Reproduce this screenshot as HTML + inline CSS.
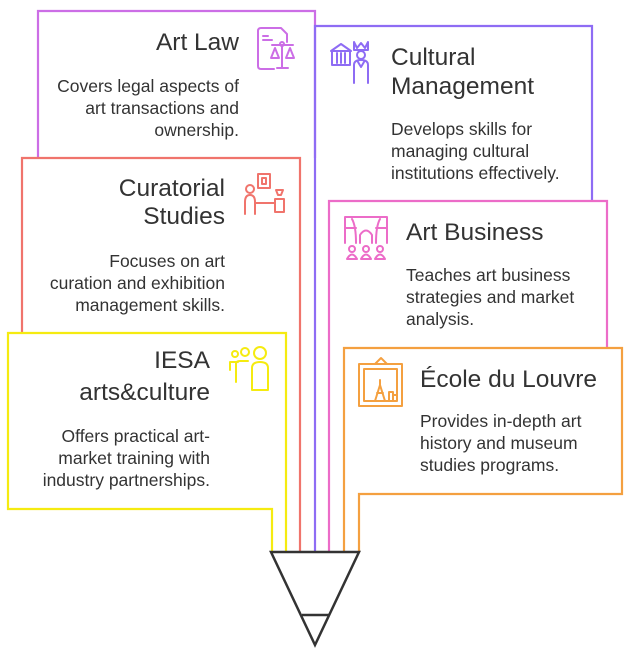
<!DOCTYPE html>
<html><head><meta charset="utf-8"><style>
html,body{margin:0;padding:0;background:#fff;}
svg{display:block;}
text{font-family:"Liberation Sans",sans-serif;fill:#333;}
.t{font-size:24.5px;}
.d{font-size:17.5px;}
</style></head><body>
<svg width="630" height="653" viewBox="0 0 630 653" xmlns="http://www.w3.org/2000/svg">
<g fill="none" stroke-width="2.2">
<path d="M38,158 V11 H315 V158" stroke="#cc6ee6"/>
<path d="M315,552 V26 H592 V201" stroke="#8e6cf4"/>
<path d="M22,333 V158 H300 V552" stroke="#f0746c"/>
<path d="M329,552 V201 H607 V348" stroke="#ec6cc8"/>
<path d="M272,552 V509 H8 V333 H286 V552" stroke="#f5eb10"/>
<path d="M359,552 V494 H622 V348 H344 V552" stroke="#f4a040"/>
</g>
<g fill="none" stroke="#333" stroke-width="2.5" stroke-linejoin="miter">
<path d="M271,552 H359 L315,645 Z"/>
<path d="M302,615 H329"/>
</g>

<g text-anchor="end">
<text class="t" x="239" y="50">Art Law</text>
<text class="d" x="239" y="92">Covers legal aspects of</text>
<text class="d" x="239" y="114">art transactions and</text>
<text class="d" x="239" y="136">ownership.</text>

<text class="t" x="225" y="196">Curatorial</text>
<text class="t" x="225" y="224">Studies</text>
<text class="d" x="225" y="267">Focuses on art</text>
<text class="d" x="225" y="289">curation and exhibition</text>
<text class="d" x="225" y="311">management skills.</text>

<text class="t" x="210" y="368">IESA</text>
<text class="t" x="210" y="400">arts&amp;culture</text>
<text class="d" x="210" y="442">Offers practical art-</text>
<text class="d" x="210" y="464">market training with</text>
<text class="d" x="210" y="486">industry partnerships.</text>
</g>
<text class="t" x="391" y="65">Cultural</text>
<text class="t" x="391" y="94">Management</text>
<text class="d" x="391" y="135">Develops skills for</text>
<text class="d" x="391" y="157">managing cultural</text>
<text class="d" x="391" y="179">institutions effectively.</text>

<text class="t" x="406" y="240">Art Business</text>
<text class="d" x="406" y="281">Teaches art business</text>
<text class="d" x="406" y="303">strategies and market</text>
<text class="d" x="406" y="325">analysis.</text>

<text class="t" x="420" y="387">École du Louvre</text>
<text class="d" x="420" y="427">Provides in-depth art</text>
<text class="d" x="420" y="449">history and museum</text>
<text class="d" x="420" y="471">studies programs.</text>

<g fill="none" stroke-width="2" stroke-linecap="round" stroke-linejoin="round">
<g stroke="#cc6ee6">
<path d="M268,28 H281 L287,34 V42 M274,69 H261 Q258,69 258,66 V31 Q258,28 261,28 H268"/>
<path d="M263,36 H268 M263,40 H272 M272,45 H293 M282,45 V68 M277,68 H288 M275,48 L271,58 H279 Z M290,48 L286,58 H294 Z"/>
<circle cx="282" cy="44" r="2"/>
</g>
<g stroke="#f0746c">
<rect x="258" y="174" width="12" height="14"/><rect x="262" y="178" width="4" height="6"/>
<circle cx="250" cy="189" r="4"/>
<path d="M245,214 V202 Q245,195 250,195 Q255,195 255,202 V214 M255,203 H274 M275,199 H284 V212 H275 Z M276,190 H283 L281,195 H278 Z"/>
</g>
<g stroke="#f5eb10">
<circle cx="235" cy="354" r="3"/><circle cx="245" cy="352" r="4"/><circle cx="260" cy="353" r="6"/>
<path d="M230,370 V362 H238 M236,382 V364 Q236,361 240,361 H248 M252,390 V368 Q252,362 260,362 Q268,362 268,368 V390 Z"/>
</g>
<g stroke="#8e6cf4">
<path d="M331,51 L341,44 L351,51 Z M332,51 V65 H350 V51 M337,53 V63 M341,53 V63 M345,53 V63"/>
<path d="M354,42 L357,48 L361,43 L365,48 L368,42 V50 H354 Z"/>
<circle cx="361" cy="55" r="4"/>
<path d="M354,83 V65 Q354,60 361,60 Q368,60 368,65 V83 M358,62 L361,67 L364,62"/>
</g>
<g stroke="#ec6cc8">
<path d="M345,217 H387 M345,217 V243 M387,217 V243 M352,219 Q356,226 356,243 M380,219 Q376,226 376,243 M360,243 V235 Q366,226 372,235 V243 M345,228 H356 M376,228 H387"/>
<circle cx="352" cy="249" r="3"/><circle cx="366" cy="249" r="3"/><circle cx="380" cy="249" r="3"/>
<path d="M347,259 Q352,250 357,259 Z M361,259 Q366,250 371,259 Z M375,259 Q380,250 385,259 Z"/>
</g>
<g stroke="#f4a040">
<rect x="359" y="364" width="43" height="42"/><rect x="364" y="369" width="33" height="32"/>
<path d="M375,364 L381,358 L387,364 M375,401 L380,385 L385,401 M377,393 H383 M380,385 V380 M389,401 V392 H393 V401 M393,395 H396"/>
</g>
</g>
</svg>
</body></html>
